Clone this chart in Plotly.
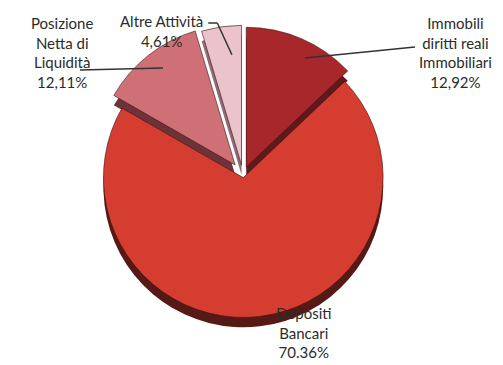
import plotly.graph_objects as go

# Composition of assets (percent), clockwise from 12 o'clock
categories = ["Immobili diritti reali Immobiliari", "Depositi Bancari",
              "Posizione Netta di Liquidità", "Altre Attività"]
values = [12.92, 70.36, 12.11, 4.61]
value_labels = ["12,92%", "70.36%", "12,11%", "4,61%"]

top_colors = ["#A8272A", "#D53D31", "#CF6F76", "#EBC3CC"]
side_colors = ["#5E1A1A", "#561A16", "#6E3338", "#8E6E74"]
pulls = [0.06, 0.02, 0.09, 0.07]

cx, cy = 0.483, 0.521
half_w, half_h = 0.303, 0.418
depth = 0.027

fig = go.Figure()

# darker copy below gives the pie its thickness
fig.add_trace(go.Pie(
    labels=categories, values=values, sort=False, direction="clockwise",
    rotation=0, pull=pulls, textinfo="none", hoverinfo="skip",
    marker=dict(colors=side_colors, line=dict(width=0)),
    domain=dict(x=[cx - half_w, cx + half_w], y=[cy - half_h - depth, cy + half_h - depth]),
    showlegend=False,
))

fig.add_trace(go.Pie(
    labels=categories, values=values, sort=False, direction="clockwise",
    rotation=0, pull=pulls, textinfo="none", hoverinfo="label+percent",
    marker=dict(colors=top_colors, line=dict(color="#3a1010", width=0.6)),
    domain=dict(x=[cx - half_w, cx + half_w], y=[cy - half_h, cy + half_h]),
    showlegend=False,
))

font = dict(family="Lato, Open Sans, sans-serif", size=15, color="#2b2b2b")

label_texts = [
    "Immobili<br>diritti reali<br>Immobiliari<br>" + value_labels[0],
    "Depositi<br>Bancari<br>" + value_labels[1],
    "Posizione<br>Netta di<br>Liquidità<br>" + value_labels[2],
    "Altre Attività<br>" + value_labels[3],
]
label_pos = [(0.905, 0.857), (0.604, 0.09), (0.123, 0.855), (0.322, 0.915)]

for txt, (x, y) in zip(label_texts, label_pos):
    fig.add_annotation(text=txt, x=x, y=y, xref="paper", yref="paper",
                       showarrow=False, font=font, align="center",
                       xanchor="center", yanchor="middle")

# leader lines from labels to slices
leaders = [
    [(0.825, 0.871), (0.606, 0.841)],
    [(0.159, 0.808), (0.324, 0.814)],
    [(0.414, 0.937), (0.432, 0.937), (0.461, 0.85)],
]
for pts in leaders:
    for (x0, y0), (x1, y1) in zip(pts[:-1], pts[1:]):
        fig.add_shape(type="line", x0=x0, y0=y0, x1=x1, y1=y1,
                      xref="paper", yref="paper",
                      line=dict(color="#333333", width=1.5))

fig.update_layout(
    width=503, height=365,
    margin=dict(l=0, r=0, t=0, b=0),
    paper_bgcolor="white", plot_bgcolor="white",
)

fig.write_html("out.html")
